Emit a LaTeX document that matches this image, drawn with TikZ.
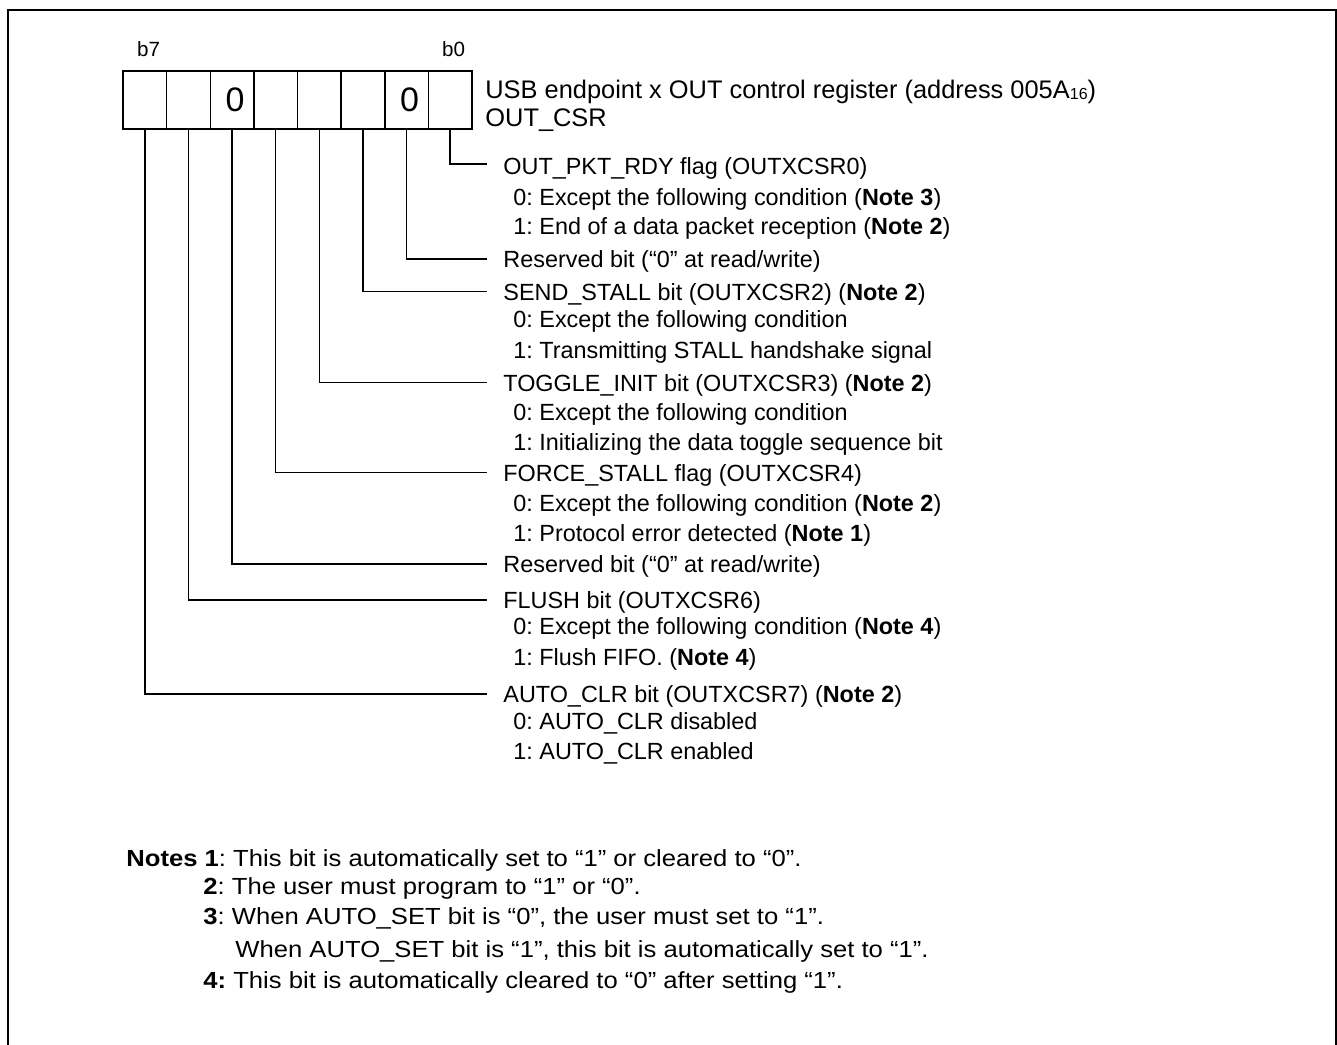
\documentclass[tikz,border=0pt]{standalone}
\usepackage{fontspec}
\setmainfont{Liberation Sans}
\newfontfamily\notefont[FakeStretch=1.1]{Liberation Sans}
\frenchspacing
\begin{document}
\begin{tikzpicture}[x=0.5pt,y=-0.5pt,
  frame/.style={line width=1pt},
  cell/.style={draw, line width=0.75pt, minimum width=21.8125pt, minimum height=29pt,
    inner sep=0pt, outer sep=0pt, font=\fontsize{17}{17}\selectfont},
  lead/.style={line width=0.75pt},
  head/.style={anchor=base west, inner sep=0pt, font=\fontsize{11.7}{13}\selectfont},
  title/.style={anchor=base west, inner sep=0pt, font=\fontsize{12.7}{14}\selectfont},
  bitlbl/.style={anchor=base west, inner sep=0pt, font=\fontsize{10.3}{11}\selectfont},
  note/.style={anchor=base west, inner sep=0pt, font=\notefont\fontsize{11.65}{13}\selectfont}
]
\useasboundingbox (0,0) rectangle (1337,1044);
\draw[frame] (8,1050) -- (8,10) -- (1336,10) -- (1336,1050);

% register cells
\node[cell] (b7) at (144.81,100) {};
\node[cell] (b6) at (188.44,100) {};
\node[cell] (b5) at (232.06,100) {\hspace*{3pt}0};
\node[cell] (b4) at (275.69,100) {};
\node[cell] (b3) at (319.31,100) {};
\node[cell] (b2) at (362.94,100) {};
\node[cell] (b1) at (406.56,100) {\hspace*{3pt}0};
\node[cell] (b0) at (450.19,100) {};

\node[bitlbl] (lb7) at (136.7,56) {b7};
\node[bitlbl] (lb0) at (441.7,56) {b0};

\node[title] (t1) at (485,98) {USB endpoint x OUT control register (address 005A\raisebox{-0.6pt}{\fontsize{8}{9}\selectfont 16})};
\node[title] (t2) at (485,126) {OUT\_CSR};

% connector ends
\coordinate (e0) at (487,164);
\coordinate (e1) at (487,259);
\coordinate (e2) at (487,291.7);
\coordinate (e3) at (487,382.7);
\coordinate (e4) at (487,472.7);
\coordinate (e5) at (487,564);
\coordinate (e6) at (487,600);
\coordinate (e7) at (487,694);
\foreach \k in {0,...,7} {\draw[lead] (b\k.south) |- (e\k);}

% descriptions (baseline = centre + 8.4)
\def\hx{503}
\def\sx{513}
\node[head] (d0) at (\hx,174.4) {OUT\_PKT\_RDY flag (OUTXCSR0)};
\node[head] (d0a) at (\sx,205.4) {0: Except the following condition (\textbf{Note 3})};
\node[head] (d0b) at (\sx,234.4) {1: End of a data packet reception (\textbf{Note 2})};
\node[head] (d1) at (\hx,267.4) {Reserved bit (“0” at read/write)};
\node[head] (d2) at (\hx,300.4) {SEND\_STALL bit (OUTXCSR2) (\textbf{Note 2})};
\node[head] (d2a) at (\sx,327.9) {0: Except the following condition};
\node[head] (d2b) at (\sx,358.4) {1: Transmitting STALL handshake signal};
\node[head] (d3) at (\hx,391.4) {TOGGLE\_INIT bit (OUTXCSR3) (\textbf{Note 2})};
\node[head] (d3a) at (\sx,420.4) {0: Except the following condition};
\node[head] (d3b) at (\sx,450.4) {1: Initializing the data toggle sequence bit};
\node[head] (d4) at (\hx,481.4) {FORCE\_STALL flag (OUTXCSR4)};
\node[head] (d4a) at (\sx,511.4) {0: Except the following condition (\textbf{Note 2})};
\node[head] (d4b) at (\sx,541.4) {1: Protocol error detected (\textbf{Note 1})};
\node[head] (d5) at (\hx,572.4) {Reserved bit (“0” at read/write)};
\node[head] (d6) at (\hx,608.4) {FLUSH bit (OUTXCSR6)};
\node[head] (d6a) at (\sx,634.9) {0: Except the following condition (\textbf{Note 4})};
\node[head] (d6b) at (\sx,665.4) {1: Flush FIFO. (\textbf{Note 4})};
\node[head] (d7) at (\hx,702.4) {AUTO\_CLR bit (OUTXCSR7) (\textbf{Note 2})};
\node[head] (d7a) at (\sx,729.4) {0: AUTO\_CLR disabled};
\node[head] (d7b) at (\sx,759.4) {1: AUTO\_CLR enabled};

% notes
\node[note] (n1) at (126,866.3) {\textbf{Notes 1}: This bit is automatically set to “1” or cleared to “0”.};
\node[note] (n2) at (203,894.3) {\textbf{2}: The user must program to “1” or “0”.};
\node[note] (n3) at (203,924.3) {\textbf{3}: When AUTO\_SET bit is “0”, the user must set to “1”.};
\node[note] (n3b) at (235,957.3) {When AUTO\_SET bit is “1”, this bit is automatically set to “1”.};
\node[note] (n4) at (203,988.3) {\textbf{4:} This bit is automatically cleared to “0” after setting “1”.};
\end{tikzpicture}
\end{document}
